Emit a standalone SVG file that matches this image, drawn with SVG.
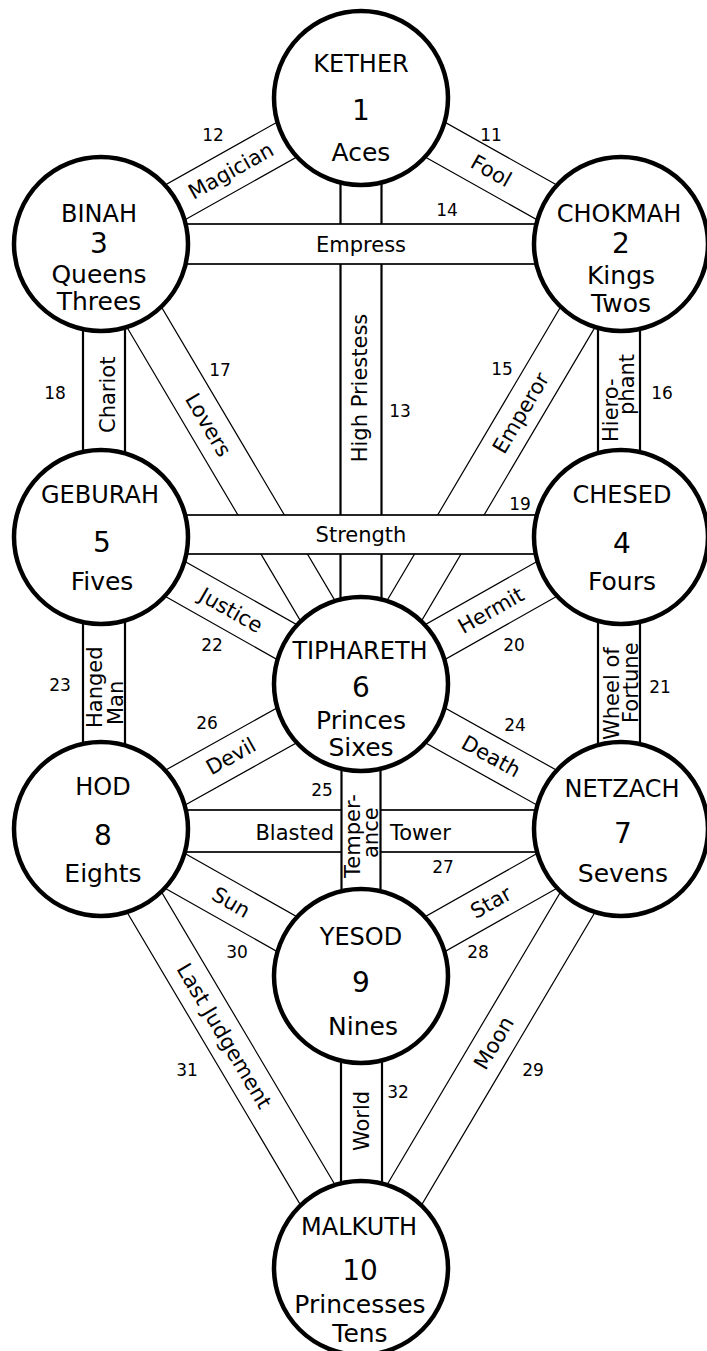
<svg xmlns="http://www.w3.org/2000/svg" width="707" height="1351" viewBox="0 0 707 1351">
<style>
.band{fill:#fff;stroke:#000}
.d{stroke-width:1.2}
.h{stroke-width:1.7}
.v{stroke-width:2.2}
.node circle{fill:#fff;stroke:#000;stroke-width:4.5}
text{font-family:"DejaVu Sans","Liberation Sans",sans-serif;fill:#000}
.t{font-size:24px;text-anchor:middle}
.n{font-size:28px;text-anchor:middle}
.s{font-size:25px;text-anchor:middle}
.lbl{font-size:21px}
.m{text-anchor:middle}
.num{font-size:17px;text-anchor:middle}
</style>
<rect width="707" height="1351" fill="#fff"/>
<g id="connectors">
  <g id="p13"><rect class="band v" x="340.5" y="98" width="41" height="586"/>
    <text class="lbl m" transform="translate(367,388) rotate(-90)">High Priestess</text></g>
  <g id="p11"><rect class="band d" x="0" y="-20" width="298.2" height="40" transform="translate(361,98) rotate(29.31)"/>
    <text class="lbl m" transform="translate(491,171) rotate(29.31)" y="7">Fool</text></g>
  <g id="p12"><rect class="band d" x="0" y="-20" width="298.2" height="40" transform="translate(101,244) rotate(-29.31)"/>
    <text class="lbl m" transform="translate(231,171) rotate(-29.31)" y="7">Magician</text></g>
  <g id="p17"><rect class="band d" x="0" y="-20" width="511.1" height="40" transform="translate(101,244) rotate(59.42)"/>
    <text class="lbl m" transform="translate(208,425) rotate(59.42)" y="7">Lovers</text></g>
  <g id="p15"><rect class="band d" x="0" y="-20" width="511.1" height="40" transform="translate(361,684) rotate(-59.42)"/>
    <text class="lbl m" transform="translate(521,413) rotate(-59.42)" y="7">Emperor</text></g>
  <g id="p22"><rect class="band d" x="0" y="-20" width="298.7" height="40" transform="translate(101,537) rotate(29.48)"/>
    <text class="lbl m" transform="translate(231,610.5) rotate(29.48)" y="7">Justice</text></g>
  <g id="p20"><rect class="band d" x="0" y="-20" width="298.7" height="40" transform="translate(361,684) rotate(-29.48)"/>
    <text class="lbl m" transform="translate(491,610.5) rotate(-29.48)" y="7">Hermit</text></g>
  <g id="p26"><rect class="band d" x="0" y="-20" width="297.7" height="40" transform="translate(101,829) rotate(-29.15)"/>
    <text class="lbl m" transform="translate(231,756.5) rotate(-29.15)" y="7">Devil</text></g>
  <g id="p24"><rect class="band d" x="0" y="-20" width="297.7" height="40" transform="translate(361,684) rotate(29.15)"/>
    <text class="lbl m" transform="translate(491,756.5) rotate(29.15)" y="7">Death</text></g>
  <g id="p30"><rect class="band d" x="0" y="-20" width="298.7" height="40" transform="translate(101,829) rotate(29.48)"/>
    <text class="lbl m" transform="translate(231,902.5) rotate(29.48)" y="7">Sun</text></g>
  <g id="p28"><rect class="band d" x="0" y="-20" width="298.7" height="40" transform="translate(361,976) rotate(-29.48)"/>
    <text class="lbl m" transform="translate(491,902.5) rotate(-29.48)" y="7">Star</text></g>
  <g id="p31"><rect class="band d" x="0" y="-20" width="510.2" height="40" transform="translate(101,829) rotate(59.36)"/>
    <text class="lbl m" transform="translate(224,1036) rotate(59.36)" y="7">Last Judgement</text></g>
  <g id="p29"><rect class="band d" x="0" y="-20" width="510.2" height="40" transform="translate(361,1268) rotate(-59.36)"/>
    <text class="lbl m" transform="translate(494,1043) rotate(-59.36)" y="7">Moon</text></g>
  <g id="p14"><rect class="band h" x="101" y="224" width="520" height="40"/>
    <text class="lbl m" x="361" y="252">Empress</text></g>
  <g id="p19"><rect class="band h" x="101" y="515" width="520" height="39"/>
    <text class="lbl m" x="361" y="542">Strength</text></g>
  <g id="p27"><rect class="band h" x="101" y="810" width="520" height="42"/>
    <text class="lbl" x="334" y="840" text-anchor="end">Blasted</text>
    <text class="lbl" x="390" y="840">Tower</text></g>
  <g id="p25"><rect class="band v" x="341.5" y="684" width="39" height="292"/>
    <text class="lbl" transform="translate(360,878) rotate(-90)">Temper-</text>
    <text class="lbl" transform="translate(378,858) rotate(-90)">ance</text></g>
  <g id="p18"><rect class="band v" x="83" y="244" width="42" height="293"/>
    <text class="lbl" transform="translate(115,433) rotate(-90)">Chariot</text></g>
  <g id="p16"><rect class="band v" x="598" y="244" width="42" height="293"/>
    <text class="lbl" transform="translate(618,442) rotate(-90)">Hiero-</text>
    <text class="lbl" transform="translate(634,415) rotate(-90)">phant</text></g>
  <g id="p23"><rect class="band v" x="83" y="537" width="42" height="292"/>
    <text class="lbl" transform="translate(102,728) rotate(-90)">Hanged</text>
    <text class="lbl" transform="translate(123,725) rotate(-90)">Man</text></g>
  <g id="p21"><rect class="band v" x="598" y="537" width="42" height="292"/>
    <text class="lbl" transform="translate(619,740) rotate(-90)">Wheel of</text>
    <text class="lbl" transform="translate(638,723) rotate(-90)">Fortune</text></g>
  <g id="p32"><rect class="band v" x="341" y="976" width="41" height="292"/>
    <text class="lbl m" transform="translate(369,1121) rotate(-90)">World</text></g>
  <g id="pathnumbers">
    <text class="num" x="491" y="141">11</text>
    <text class="num" x="213" y="141">12</text>
    <text class="num" x="400" y="417">13</text>
    <text class="num" x="447" y="216">14</text>
    <text class="num" x="502" y="375">15</text>
    <text class="num" x="662" y="399">16</text>
    <text class="num" x="220" y="376">17</text>
    <text class="num" x="55" y="399">18</text>
    <text class="num" x="520" y="510">19</text>
    <text class="num" x="514" y="651">20</text>
    <text class="num" x="660" y="693">21</text>
    <text class="num" x="212" y="651">22</text>
    <text class="num" x="60" y="691">23</text>
    <text class="num" x="515" y="731">24</text>
    <text class="num" x="322" y="796">25</text>
    <text class="num" x="207" y="729">26</text>
    <text class="num" x="443" y="873">27</text>
    <text class="num" x="478" y="958">28</text>
    <text class="num" x="533" y="1076">29</text>
    <text class="num" x="237" y="958">30</text>
    <text class="num" x="187" y="1076">31</text>
    <text class="num" x="398" y="1098">32</text>
  </g>
</g>
<g id="kether" class="node"><circle cx="361" cy="98" r="87"/>
  <text class="t" x="361" y="72">KETHER</text><text class="n" x="361" y="120">1</text><text class="s" x="361" y="161">Aces</text></g>
<g id="binah" class="node"><circle cx="101" cy="244" r="87"/>
  <text class="t" x="99" y="222">BINAH</text><text class="n" x="99" y="253">3</text><text class="s" x="99" y="283">Queens</text><text class="s" x="99" y="310">Threes</text></g>
<g id="chokmah" class="node"><circle cx="621" cy="244" r="87"/>
  <text class="t" x="619" y="222">CHOKMAH</text><text class="n" x="621" y="253">2</text><text class="s" x="621" y="284">Kings</text><text class="s" x="621" y="312">Twos</text></g>
<g id="geburah" class="node"><circle cx="101" cy="537" r="87"/>
  <text class="t" x="100" y="503">GEBURAH</text><text class="n" x="102" y="552">5</text><text class="s" x="102" y="590">Fives</text></g>
<g id="chesed" class="node"><circle cx="621" cy="537" r="87"/>
  <text class="t" x="622" y="503">CHESED</text><text class="n" x="622" y="553">4</text><text class="s" x="622" y="590">Fours</text></g>
<g id="tiphareth" class="node"><circle cx="361" cy="684" r="87"/>
  <text class="t" x="360" y="659">TIPHARETH</text><text class="n" x="361" y="697">6</text><text class="s" x="361" y="729">Princes</text><text class="s" x="361" y="756">Sixes</text></g>
<g id="hod" class="node"><circle cx="101" cy="829" r="87"/>
  <text class="t" x="103" y="795">HOD</text><text class="n" x="103" y="845">8</text><text class="s" x="103" y="882">Eights</text></g>
<g id="netzach" class="node"><circle cx="621" cy="829" r="87"/>
  <text class="t" x="622" y="797">NETZACH</text><text class="n" x="623" y="843">7</text><text class="s" x="623" y="882">Sevens</text></g>
<g id="yesod" class="node"><circle cx="361" cy="976" r="87"/>
  <text class="t" x="361" y="945">YESOD</text><text class="n" x="361" y="992">9</text><text class="s" x="363" y="1035">Nines</text></g>
<g id="malkuth" class="node"><circle cx="361" cy="1268" r="87"/>
  <text class="t" x="359" y="1235">MALKUTH</text><text class="n" x="360" y="1280">10</text><text class="s" x="360" y="1313">Princesses</text><text class="s" x="360" y="1342">Tens</text></g>
</svg>
